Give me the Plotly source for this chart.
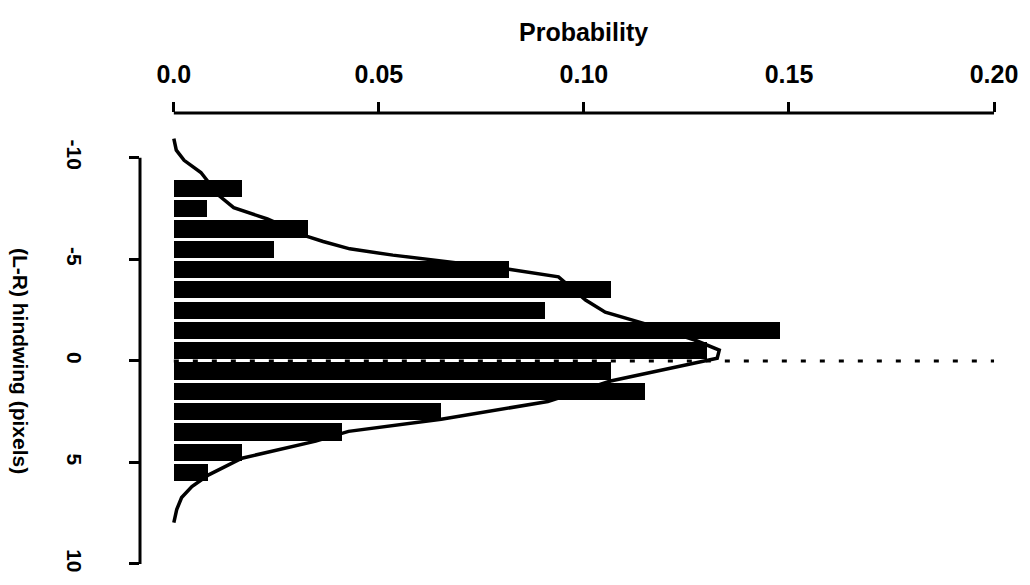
import plotly.graph_objects as go

# Histogram bins (bin centres, pixels) and probabilities
bin_centres = [-8.5, -7.5, -6.5, -5.5, -4.5, -3.5, -2.5, -1.5, -0.5, 0.5, 1.5, 2.5, 3.5, 4.5, 5.5]
probabilities = [0.0166, 0.0082, 0.0328, 0.0245, 0.0817, 0.1065, 0.0904, 0.1479,
                 0.130, 0.1066, 0.115, 0.0652, 0.0409, 0.0166, 0.0083]

# Fitted density curve (probability, position)
curve_p = [0.0, 0.0006, 0.0025, 0.0066, 0.011, 0.0146, 0.0228, 0.0325, 0.0364, 0.0429,
           0.0534, 0.0817, 0.0938, 0.1004, 0.1052, 0.1156, 0.127, 0.1330, 0.1325,
           0.1065, 0.0912, 0.0652, 0.0426, 0.0346, 0.0166, 0.0085, 0.0044, 0.0019, 0.0007, 0.0]
curve_y = [-10.95, -10.38, -9.88, -9.28, -8.14, -7.55, -6.99, -6.13, -5.88, -5.52,
           -5.21, -4.51, -4.14, -3.00, -2.40, -1.79, -1.03, -0.53, -0.13,
           0.99, 2.0, 2.87, 3.47, 3.95, 4.79, 5.61, 6.19, 6.73, 7.32, 7.96]

# Reference (zero asymmetry) dashed line
ref_p = [0.0, 0.2]
ref_y = [0.0, 0.0]

x_tickvals = [0.0, 0.05, 0.10, 0.15, 0.20]
x_ticktext = ["0.0", "0.05", "0.10", "0.15", "0.20"]
y_tickvals = [-10, -5, 0, 5, 10]
y_ticktext = ["-10", "-5", "0", "5", "10"]

FONT = "Liberation Sans"

fig = go.Figure()
fig.add_trace(go.Bar(
    x=probabilities, y=bin_centres, orientation="h", width=0.85,
    marker=dict(color="black", line=dict(width=0)), showlegend=False,
))
fig.add_trace(go.Scatter(
    x=curve_p, y=curve_y, mode="lines",
    line=dict(color="black", width=3.5), showlegend=False,
))
fig.add_trace(go.Scatter(
    x=ref_p, y=ref_y, mode="lines",
    line=dict(color="black", width=3, dash="5px,14px"), showlegend=False,
))

fig.update_layout(
    width=1030, height=585,
    margin=dict(l=140, r=25, t=113, b=18),
    paper_bgcolor="white", plot_bgcolor="white",
    bargap=0,
    xaxis=dict(
        range=[-0.00825, 0.2017], side="top",
        showline=False, showgrid=False, zeroline=False,
        ticks="outside", ticklen=10, tickwidth=3, tickcolor="black",
        tickvals=x_tickvals, ticktext=x_ticktext,
        tickfont=dict(family=FONT, size=25, color="black", weight="bold"),
        ticklabelstandoff=9,
    ),
    yaxis=dict(
        range=[10.1, -12.21],
        showline=False, showgrid=False, zeroline=False,
        ticks="outside", ticklen=10, tickwidth=3, tickcolor="black",
        tickvals=y_tickvals, ticktext=y_ticktext, tickangle=90,
        tickfont=dict(family=FONT, size=21, color="black", weight="bold"),
        ticklabelstandoff=37,
    ),
    shapes=[
        dict(type="line", xref="x", yref="paper", x0=x_tickvals[0], x1=x_tickvals[-1],
             y0=1, y1=1, line=dict(color="black", width=3)),
        dict(type="line", xref="paper", yref="y", x0=0, x1=0,
             y0=y_tickvals[0], y1=y_tickvals[-1], line=dict(color="black", width=3)),
    ],
    annotations=[
        dict(text="Probability", xref="x", yref="paper", x=0.1, y=1, yshift=81,
             xanchor="center", yanchor="middle", showarrow=False,
             font=dict(family=FONT, size=25, color="black", weight="bold")),
        dict(text="(L-R) hindwing (pixels)", xref="paper", yref="y", x=0, y=0,
             xshift=-120, xanchor="center", yanchor="middle", textangle=90,
             showarrow=False,
             font=dict(family=FONT, size=21, color="black", weight="bold")),
    ],
)

fig.write_html("out.html")
